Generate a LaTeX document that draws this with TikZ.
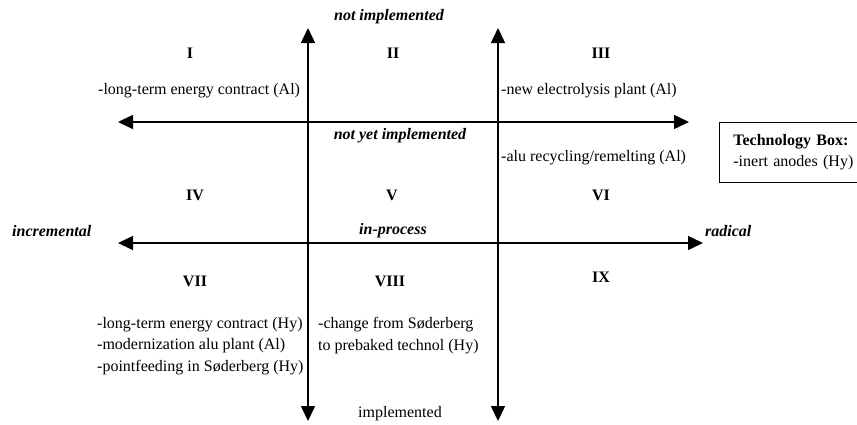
\documentclass[tikz,border=0pt]{standalone}
\usepackage{fontspec}
\setmainfont{Liberation Serif}
\usepackage{tikz}
\usetikzlibrary{arrows.meta,positioning}

\begin{document}
\begin{tikzpicture}[x=1pt,y=-1pt,
  every node/.style={font=\fontsize{16}{21.5}\selectfont,inner sep=0pt},
  axis/.style={line width=1.5pt,{Triangle[length=15pt,width=14pt]}-{Triangle[length=15pt,width=14pt]}},
  numeral/.style={font=\fontsize{16}{21.5}\selectfont\bfseries},
  pole/.style={font=\fontsize{16}{21.5}\selectfont\bfseries\itshape},
  item/.style={anchor=west,align=left}]
  \useasboundingbox (0,0) rectangle (857,424);

  % axis ends
  \coordinate (vLtop) at (308,28);  \coordinate (vLbot) at (308,421);
  \coordinate (vRtop) at (498,28);  \coordinate (vRbot) at (498,421);
  \coordinate (hUleft) at (118,122); \coordinate (hUright) at (689,122);
  \coordinate (hLleft) at (118,243); \coordinate (hLright) at (703,243);

  \draw[axis] (vLtop) -- (vLbot);
  \draw[axis] (vRtop) -- (vRbot);
  \draw[axis] (hUleft) -- (hUright);
  \draw[axis] (hLleft) -- (hLright);

  \node[pole] (notImpl) at (389,17) {not implemented};
  \node[pole] (notYet) at (400,136) {not yet implemented};
  \node[pole] (inProc) at (393,231) {in-process};
  \node[pole,anchor=west] (incr) at (12,231) {incremental};
  \node[pole,anchor=west] (rad) at (705,231) {radical};
  \node (impl) at (400,414) {implemented};

  \node[numeral] (qI) at (190,53) {I};
  \node[numeral] (qII) at (393,53) {II};
  \node[numeral] (qIII) at (601,53) {III};
  \node[numeral] (qIV) at (195,195) {IV};
  \node[numeral] (qV) at (392,195) {V};
  \node[numeral] (qVI) at (601,195) {VI};
  \node[numeral] (qVII) at (195,281) {VII};
  \node[numeral] (qVIII) at (390,281) {VIII};
  \node[numeral] (qIX) at (601,277) {IX};

  \node[item] (itemI) at (98,91) {-long-term energy contract (Al)};
  \node[item] (itemIII) at (501,91) {-new electrolysis plant (Al)};
  \node[item] (itemVI) at (501,158) {-alu recycling/remelting (Al)};
  \node[item] (itemVII) at (97,346) {-long-term energy contract (Hy)\\-modernization alu plant (Al)\\-pointfeeding in Søderberg (Hy)};
  \node[item] (itemVIII) at (318,335.5) {-change from Søderberg\\to prebaked technol (Hy)};

  \node[draw,line width=.8pt,anchor=north west,minimum height=60pt,text width=140pt,
    inner xsep=14pt,align=left] (techBox) at (719,122)
    {\textbf{Technology Box:}\\-inert anodes (Hy)};
\end{tikzpicture}
\end{document}
